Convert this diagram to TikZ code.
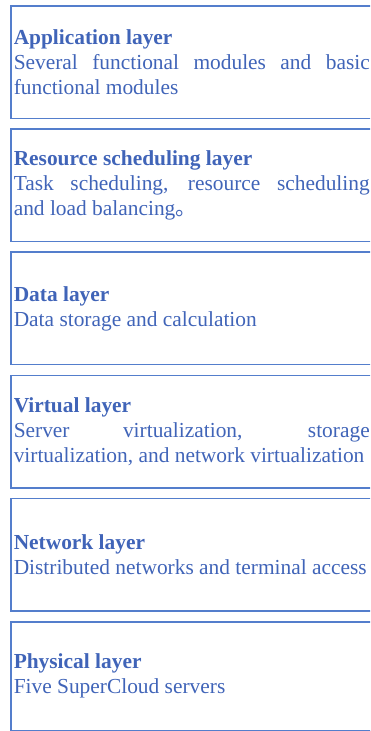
\documentclass[tikz,border=0pt]{standalone}
\usepackage{fontspec}
\setmainfont{Liberation Serif}
\newfontfamily\cjk{Noto Sans CJK SC}
\usetikzlibrary{positioning}
\definecolor{layerline}{RGB}{84,126,204}
\definecolor{layertext}{RGB}{64,100,184}
\hyphenpenalty=10000
\tolerance=10000
\newcommand{\layerbox}[2]{\makebox[380pt][l]{\parbox{356pt}{\textbf{#1}\\#2}}}

\begin{document}
\begin{tikzpicture}[node distance=9.2pt,
  layer/.style={draw=layerline,line width=1.5pt,text=layertext,rectangle,
    inner xsep=3pt,inner ysep=0pt,minimum height=112.5pt,
    font=\fontsize{21.4pt}{25pt}\selectfont}]
  \useasboundingbox (0,0) rectangle (370pt,-731pt);
  \clip (0,0) rectangle (370pt,-731pt);
  \node[layer,anchor=north west] (app) at (10pt,-5pt)
    {\layerbox{Application layer}{Several functional modules and basic\linebreak functional modules}};
  \node[layer,below=of app.south west,anchor=north west] (sched)
    {\layerbox{Resource scheduling layer}{Task scheduling, resource scheduling\linebreak and load balancing{\cjk 。}}};
  \node[layer,below=of sched.south west,anchor=north west] (data)
    {\layerbox{Data layer}{Data storage and calculation}};
  \node[layer,below=of data.south west,anchor=north west] (virt)
    {\layerbox{Virtual layer}{Server virtualization, storage\linebreak virtualization, and network virtualization}};
  \node[layer,below=of virt.south west,anchor=north west] (net)
    {\layerbox{Network layer}{Distributed networks and terminal access}};
  \node[layer,below=of net.south west,anchor=north west,minimum height=109pt] (phys)
    {\layerbox{Physical layer}{Five SuperCloud servers}};
\end{tikzpicture}
\end{document}
